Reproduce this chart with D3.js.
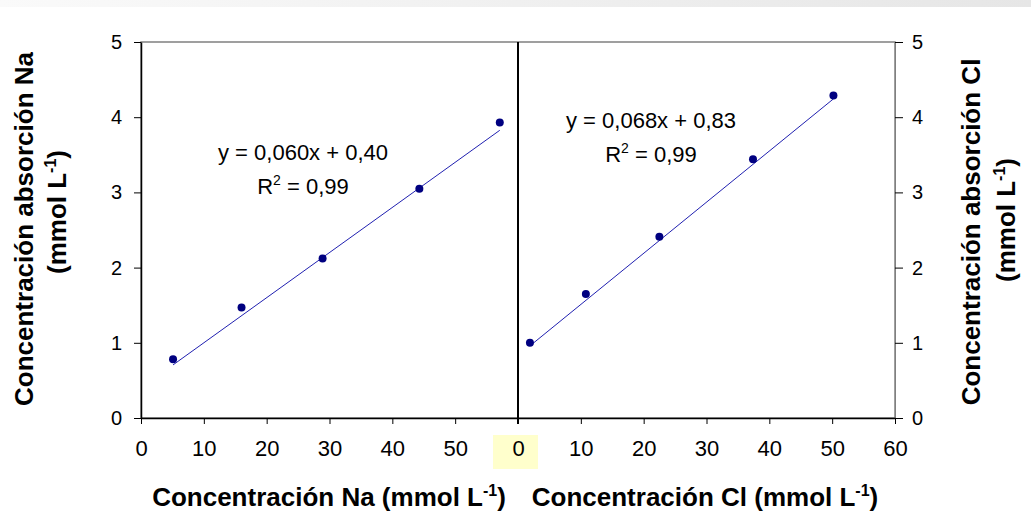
<!DOCTYPE html>
<html>
<head>
<meta charset="utf-8">
<script src="https://cdn.jsdelivr.net/npm/d3@7"></script>
<style>
  body { margin: 0; background: #fff; }
  svg { display: block; font-family: Arial, "Liberation Sans", sans-serif; }
</style>
</head>
<body>
<div class="chart"></div>
<script>
// Na panel
let naX = [5.1, 16.0, 28.9, 44.3, 57.1];
let naY = [0.78, 1.47, 2.12, 3.05, 3.93];
let naSlope = 0.060, naIntercept = 0.40;
let naEq = "y = 0,060x + 0,40";
// Cl panel
let clX = [1.9, 10.8, 22.5, 37.4, 50.2];
let clY = [1.00, 1.65, 2.41, 3.44, 4.29];
let clSlope = 0.068, clIntercept = 0.83;
let clEq = "y = 0,068x + 0,83";
let r2Text = " = 0,99";

let naTicks = [0, 10, 20, 30, 40, 50];
let clTicks = [0, 10, 20, 30, 40, 50, 60];
let yTicks = [0, 1, 2, 3, 4, 5];

function drawChart() {
    let w = 1031, h = 516;
    let top = 42, bottom = 418;
    let left = 141, mid = 518, right = 895;

    let svg = d3.select(".chart").append("svg")
        .attr("width", w)
        .attr("height", h);

    // grey band at the top
    let grad = svg.append("defs").append("linearGradient")
        .attr("id", "band").attr("x1", "0").attr("x2", "1");
    grad.append("stop").attr("offset", "0").attr("stop-color", "#fafafa");
    grad.append("stop").attr("offset", "1").attr("stop-color", "#e6e6e6");
    svg.append("rect").attr("x", 0).attr("y", 0).attr("width", w).attr("height", 7)
        .attr("fill", "url(#band)");

    let y = d3.scaleLinear().domain([0, 5]).range([bottom, top]);
    let xNa = d3.scaleLinear().domain([0, 60]).range([left, mid]);
    let xCl = d3.scaleLinear().domain([0, 60]).range([mid, right]);
    let fmt = d3.format("d");

    // plot border (grey)
    svg.append("rect")
        .attr("x", left).attr("y", top)
        .attr("width", right - left).attr("height", bottom - top)
        .attr("fill", "none").attr("stroke", "#808080").attr("stroke-width", 1.5);

    // highlight behind the middle 0
    svg.append("rect")
        .attr("x", 493).attr("y", 435).attr("width", 45).attr("height", 34)
        .attr("fill", "#ffffcc");

    // left y axis
    let gyL = svg.append("g").attr("transform", "translate(" + left + ",0)")
        .call(d3.axisLeft(y).tickValues(yTicks).tickFormat(fmt).tickSize(7).tickSizeOuter(0).tickPadding(12));
    // right y axis
    let gyR = svg.append("g").attr("transform", "translate(" + right + ",0)")
        .call(d3.axisRight(y).tickValues(yTicks).tickFormat(fmt).tickSize(8).tickSizeOuter(0).tickPadding(9));
    gyR.select(".domain").attr("stroke", "#808080");

    // x axes
    let gxL = svg.append("g").attr("transform", "translate(0," + bottom + ")")
        .call(d3.axisBottom(xNa).tickValues(naTicks).tickFormat(fmt).tickSize(6).tickSizeOuter(0).tickPadding(16));
    let gxR = svg.append("g").attr("transform", "translate(0," + bottom + ")")
        .call(d3.axisBottom(xCl).tickValues(clTicks).tickFormat(fmt).tickSize(6).tickSizeOuter(0).tickPadding(16));

    [gyL, gyR].forEach(function (g) {
        g.selectAll("text").attr("font-size", "20px").attr("fill", "#000")
            .attr("font-family", "Arial, 'Liberation Sans', sans-serif");
        g.selectAll(".tick line").attr("stroke", "#000");
    });
    [gxL, gxR].forEach(function (g) {
        g.selectAll("text").attr("font-size", "22px").attr("fill", "#000")
            .attr("font-family", "Arial, 'Liberation Sans', sans-serif");
        g.selectAll(".tick line").attr("stroke", "#000");
    });
    gyL.select(".domain").attr("stroke", "#000").attr("stroke-width", 1.5);
    gxL.select(".domain").attr("stroke", "#000").attr("stroke-width", 1.5);
    gxR.select(".domain").attr("stroke", "#000").attr("stroke-width", 1.5);

    // divider between the panels
    svg.append("line")
        .attr("x1", mid).attr("x2", mid).attr("y1", top).attr("y2", bottom + 6)
        .attr("stroke", "#000").attr("stroke-width", 2);

    function panel(xs, ys, x, slope, intercept, eq, eqX, eqY) {
        let x0 = d3.min(xs), x1 = d3.max(xs);
        svg.append("line")
            .attr("x1", x(x0)).attr("y1", y(slope * x0 + intercept))
            .attr("x2", x(x1)).attr("y2", y(slope * x1 + intercept))
            .attr("stroke", "#2020b0").attr("stroke-width", 1);

        svg.append("g").selectAll("circle")
            .data(xs)
            .enter().append("circle")
            .attr("cx", function (d) { return x(d); })
            .attr("cy", function (d, i) { return y(ys[i]); })
            .attr("r", 4)
            .attr("fill", "#000080");

        svg.append("text")
            .attr("x", eqX).attr("y", eqY)
            .attr("text-anchor", "middle")
            .attr("font-size", "22px")
            .text(eq);
        let r2 = svg.append("text")
            .attr("x", eqX).attr("y", eqY + 34)
            .attr("text-anchor", "middle")
            .attr("font-size", "22px");
        r2.append("tspan").text("R");
        r2.append("tspan").attr("dy", -9).attr("font-size", "14px").text("2");
        r2.append("tspan").attr("dy", 9).text(r2Text);
    }

    panel(naX, naY, xNa, naSlope, naIntercept, naEq, 303, 160);
    panel(clX, clY, xCl, clSlope, clIntercept, clEq, 651, 128);

    // axis titles with superscript -1
    function title(x, yy, rot, parts) {
        let t = svg.append("text")
            .attr("transform", "translate(" + x + "," + yy + ") rotate(" + rot + ")")
            .attr("text-anchor", "middle")
            .attr("font-size", "26px")
            .attr("font-weight", "bold");
        parts.forEach(function (p) {
            if (p.sup) {
                t.append("tspan").attr("dy", -10).attr("font-size", "16px").text(p.t);
            } else {
                t.append("tspan").attr("dy", p.down ? 10 : 0).text(p.t);
            }
        });
    }

    title(329, 506, 0, [{t: "Concentración Na (mmol L"}, {t: "-1", sup: true}, {t: ")", down: true}]);
    title(705, 506, 0, [{t: "Concentración Cl (mmol L"}, {t: "-1", sup: true}, {t: ")", down: true}]);

    title(33, 229, -90, [{t: "Concentración absorción Na"}]);
    title(66, 212, -90, [{t: "(mmol L"}, {t: "-1", sup: true}, {t: ")", down: true}]);
    title(980, 232, -90, [{t: "Concentración absorción Cl"}]);
    title(1015, 220, -90, [{t: "(mmol L"}, {t: "-1", sup: true}, {t: ")", down: true}]);
}

drawChart();
</script>
</body>
</html>
